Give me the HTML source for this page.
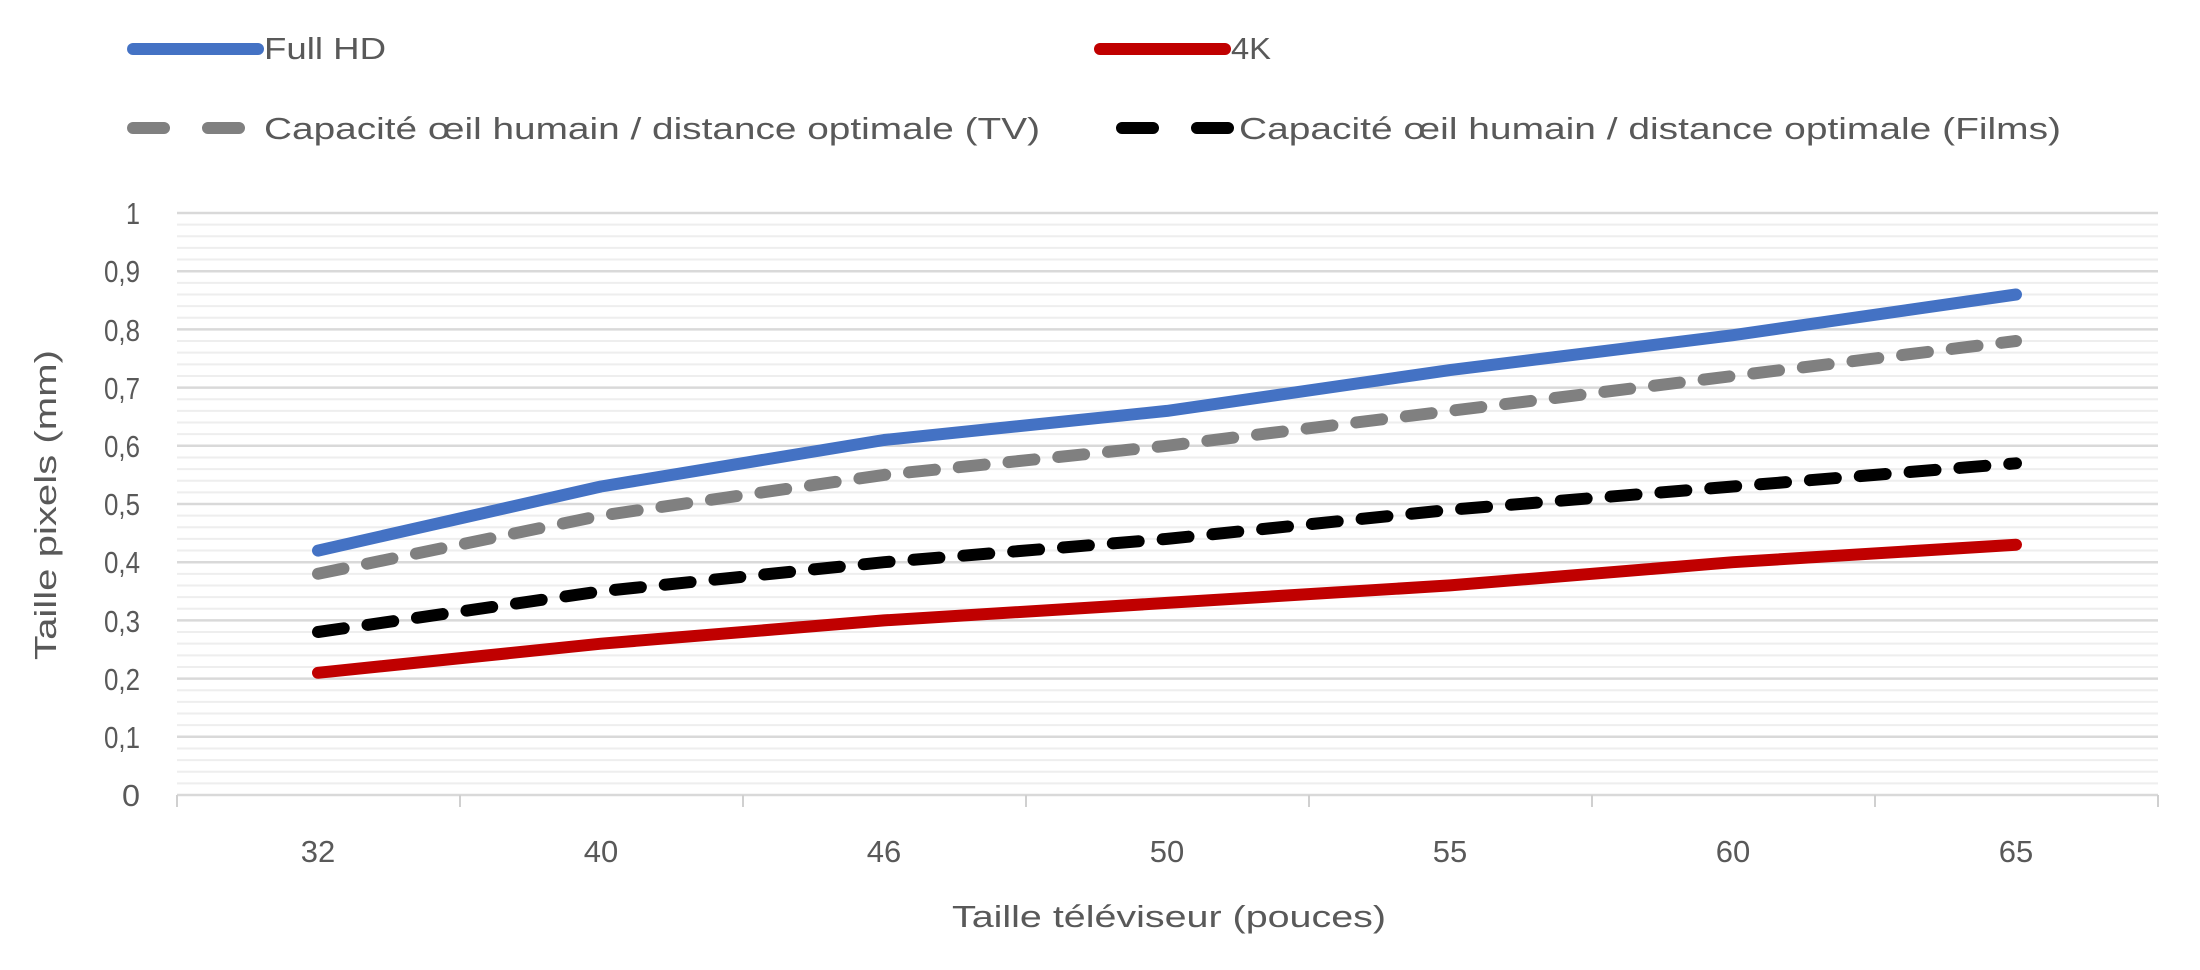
<!DOCTYPE html>
<html><head><meta charset="utf-8"><style>
html,body{margin:0;padding:0;background:#fff;}
svg{display:block;font-family:"Liberation Sans",sans-serif;}
</style></head><body>
<svg width="2200" height="970" viewBox="0 0 2200 970" xmlns="http://www.w3.org/2000/svg">
<g id="grid"></g>
<script>
(function(){
 var g=document.getElementById('grid'),ns='http://www.w3.org/2000/svg';
 var y0=795,y1=213;
 for(var i=0;i<=50;i++){
  var y=y0-(y0-y1)*i/50;
  var l=document.createElementNS(ns,'line');
  l.setAttribute('x1',177);l.setAttribute('x2',2158);
  l.setAttribute('y1',y);l.setAttribute('y2',y);
  var major=(i%5==0);
  l.setAttribute('stroke',major?'#d9d9d9':'#eeeeee');
  l.setAttribute('stroke-width',major?2.5:2);
  g.appendChild(l);
 }
 for(var k=0;k<=7;k++){
  var x=177+k*283;
  var t=document.createElementNS(ns,'line');
  t.setAttribute('x1',x);t.setAttribute('x2',x);t.setAttribute('y1',795);t.setAttribute('y2',807);
  t.setAttribute('stroke','#d0d0d0');t.setAttribute('stroke-width',2);g.appendChild(t);
 }
})();
</script>
<g font-size="31" fill="#595959" text-anchor="end">
<text x="140" y="224" textLength="14" lengthAdjust="spacingAndGlyphs">1</text>
<text x="140" y="282" textLength="36" lengthAdjust="spacingAndGlyphs">0,9</text>
<text x="140" y="341" textLength="36" lengthAdjust="spacingAndGlyphs">0,8</text>
<text x="140" y="399" textLength="36" lengthAdjust="spacingAndGlyphs">0,7</text>
<text x="140" y="457" textLength="36" lengthAdjust="spacingAndGlyphs">0,6</text>
<text x="140" y="515" textLength="36" lengthAdjust="spacingAndGlyphs">0,5</text>
<text x="140" y="573" textLength="36" lengthAdjust="spacingAndGlyphs">0,4</text>
<text x="140" y="632" textLength="36" lengthAdjust="spacingAndGlyphs">0,3</text>
<text x="140" y="690" textLength="36" lengthAdjust="spacingAndGlyphs">0,2</text>
<text x="140" y="748" textLength="36" lengthAdjust="spacingAndGlyphs">0,1</text>
<text x="140" y="806" textLength="18" lengthAdjust="spacingAndGlyphs">0</text>
</g>
<g font-size="31" fill="#595959" text-anchor="middle">
<text x="318" y="862">32</text>
<text x="601" y="862">40</text>
<text x="884" y="862">46</text>
<text x="1167" y="862">50</text>
<text x="1450" y="862">55</text>
<text x="1733" y="862">60</text>
<text x="2016" y="862">65</text>
<text x="1169" y="927" textLength="434" lengthAdjust="spacingAndGlyphs">Taille téléviseur (pouces)</text>
<text transform="translate(56,505) rotate(-90)" textLength="310" lengthAdjust="spacingAndGlyphs">Taille pixels (mm)</text>
</g>
<g fill="none" stroke-linecap="round" stroke-linejoin="round" stroke-width="12">
<polyline stroke="#4472c4" points="318,550.6 601,486.5 884,440 1167,410.9 1450,370.1 1733,335.2 2016,294.5"/>
<polyline stroke="#c00000" points="318,672.8 601,643.7 884,620.4 1167,602.9 1450,585.4 1733,562.2 2016,544.7"/>
<polyline stroke="#808080" stroke-dasharray="26 24" points="318,573.8 601,515.6 884,474.9 1167,445.8 1450,410.9 1733,376 2016,341"/>
<polyline stroke="#000000" stroke-dasharray="26 24" points="318,632 601,591.3 884,562.2 1167,538.9 1450,509.8 1733,486.5 2016,463.3"/>
</g>
<g stroke-linecap="round" stroke-width="12" fill="none">
<line x1="133" y1="49" x2="258" y2="49" stroke="#4472c4"/>
<line x1="1100" y1="49" x2="1225" y2="49" stroke="#c00000"/>
<line x1="133" y1="128" x2="258" y2="128" stroke="#808080" stroke-dasharray="31 44"/>
<line x1="1122" y1="128" x2="1228" y2="128" stroke="#000" stroke-dasharray="31 44"/>
</g>
<g font-size="31" fill="#595959">
<text x="264" y="59" textLength="122" lengthAdjust="spacingAndGlyphs">Full HD</text>
<text x="1231" y="59" textLength="40" lengthAdjust="spacingAndGlyphs">4K</text>
<text x="264" y="139" textLength="776" lengthAdjust="spacingAndGlyphs">Capacité œil humain / distance optimale (TV)</text>
<text x="1239" y="139" textLength="822" lengthAdjust="spacingAndGlyphs">Capacité œil humain / distance optimale (Films)</text>
</g>
</svg>
</body></html>
